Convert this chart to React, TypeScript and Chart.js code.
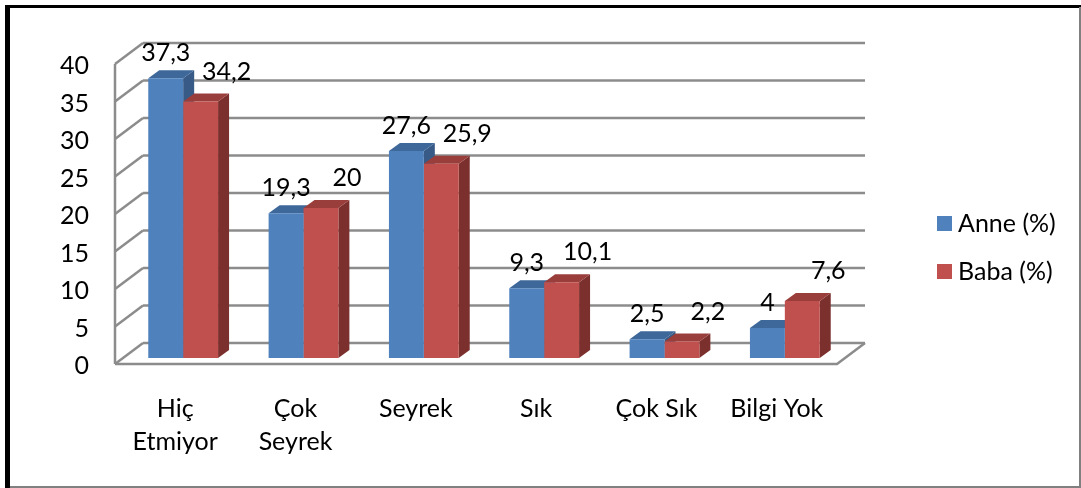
import React, { useEffect, useRef } from "react";
import { Chart, registerables } from "chart.js";

Chart.register(...registerables);

// ---------- data ----------
const categories: (string | string[])[] = [
  ["Hiç", "Etmiyor"],
  ["Çok", "Seyrek"],
  "Seyrek",
  "Sık",
  "Çok Sık",
  "Bilgi Yok",
];
const anneValues = [37.3, 19.3, 27.6, 9.3, 2.5, 4];
const babaValues = [34.2, 20, 25.9, 10.1, 2.2, 7.6];
const seriesLabels = ["Anne (%)", "Baba (%)"];
const yMin = 0;
const yMax = 40;
const yStep = 5;

// ---------- style ----------
const W = 1081;
const H = 488;
const FONT = "Lato";
const FONT_SIZE = 25;
const frontColors = ["#4F81BD", "#C0504D"];
const topColors = ["#3E679A", "#9A3E3C"];
const sideColors = ["#375A86", "#7C302E"];
const GRID = "#8c8c8c";
const FRONT = { dx: -8, dy: 6 };
const BACK = { dx: 20, dy: -15 };
const DEPTH = { dx: 11, dy: -8 };

const fmt = (v: number) => String(v).replace(".", ",");

const threeDPlugin = {
  id: "threeD",
  beforeDraw(chart: any) {
    const { ctx } = chart;
    ctx.save();
    ctx.fillStyle = "#ffffff";
    ctx.fillRect(0, 0, W, H);
    // frame
    ctx.fillStyle = "#000000";
    ctx.fillRect(5, 5, W - 5, 3);
    ctx.fillRect(5, 5, 5, H - 5);
    ctx.fillStyle = "#808080";
    ctx.fillRect(W - 2, 7, 2, H - 7);
    ctx.fillRect(10, H - 2, W - 10, 2);
    ctx.restore();
  },
  beforeDatasetsDraw(chart: any) {
    const { ctx, scales } = chart;
    const xs = scales.x;
    const ys = scales.y;
    ctx.save();
    ctx.strokeStyle = GRID;
    ctx.lineWidth = 2.5;
    ctx.lineCap = "butt";
    const ticks = ys.ticks.map((t: any) => t.value);
    // back wall horizontal grid lines + left wall diagonals
    ticks.forEach((v: number) => {
      const py = ys.getPixelForValue(v);
      ctx.beginPath();
      ctx.moveTo(xs.left + BACK.dx, py + BACK.dy);
      ctx.lineTo(xs.right + BACK.dx, py + BACK.dy);
      ctx.stroke();
      ctx.beginPath();
      ctx.moveTo(xs.left + FRONT.dx, py + FRONT.dy);
      ctx.lineTo(xs.left + BACK.dx, py + BACK.dy);
      ctx.stroke();
    });
    // left wall front edge
    const top = ys.getPixelForValue(yMax);
    const bot = ys.getPixelForValue(yMin);
    ctx.beginPath();
    ctx.moveTo(xs.left + FRONT.dx, top + FRONT.dy);
    ctx.lineTo(xs.left + FRONT.dx, bot + FRONT.dy);
    ctx.stroke();
    // floor front + right edges
    ctx.beginPath();
    ctx.moveTo(xs.left + FRONT.dx, bot + FRONT.dy);
    ctx.lineTo(xs.right + FRONT.dx, bot + FRONT.dy);
    ctx.lineTo(xs.right + BACK.dx, bot + BACK.dy);
    ctx.stroke();

    // bar sides and tops
    chart.data.datasets.forEach((_ds: any, di: number) => {
      const meta = chart.getDatasetMeta(di);
      meta.data.forEach((el: any) => {
        const { x, y, base, width } = el.getProps(["x", "y", "base", "width"], true);
        const l = x - width / 2;
        const r = x + width / 2;
        ctx.fillStyle = sideColors[di];
        ctx.beginPath();
        ctx.moveTo(r, y);
        ctx.lineTo(r + DEPTH.dx, y + DEPTH.dy);
        ctx.lineTo(r + DEPTH.dx, base + DEPTH.dy);
        ctx.lineTo(r, base);
        ctx.closePath();
        ctx.fill();
        ctx.fillStyle = topColors[di];
        ctx.beginPath();
        ctx.moveTo(l, y);
        ctx.lineTo(l + DEPTH.dx, y + DEPTH.dy);
        ctx.lineTo(r + DEPTH.dx, y + DEPTH.dy);
        ctx.lineTo(r, y);
        ctx.closePath();
        ctx.fill();
      });
    });
    ctx.restore();
  },
  afterDatasetsDraw(chart: any) {
    const { ctx } = chart;
    ctx.save();
    ctx.font = `${FONT_SIZE}px ${FONT}`;
    ctx.fillStyle = "#000000";
    ctx.textAlign = "center";
    ctx.textBaseline = "middle";
    chart.data.datasets.forEach((ds: any, di: number) => {
      const meta = chart.getDatasetMeta(di);
      meta.data.forEach((el: any, i: number) => {
        const { x, y } = el.getProps(["x", "y"], true);
        const ox = di === 0 ? 0 : 26;
        const oy = di === 0 ? 25 : 30;
        ctx.fillText(fmt(ds.data[i]), x + ox, y - oy);
      });
    });
    // legend
    ctx.textAlign = "left";
    chart.data.datasets.forEach((ds: any, di: number) => {
      const ly = 216 + di * 48;
      ctx.fillStyle = frontColors[di];
      ctx.fillRect(937, ly, 15, 15);
      ctx.fillStyle = "#000000";
      ctx.fillText(ds.label, 958, ly + 8);
    });
    ctx.restore();
  },
};

export default function App() {
  const ref = useRef<HTMLCanvasElement | null>(null);
  useEffect(() => {
    if (!ref.current) return;
    const font = { family: FONT, size: FONT_SIZE, lineHeight: 1.32 };
    const chart = new Chart(ref.current, {
      type: "bar",
      data: {
        labels: categories,
        datasets: [
          {
            label: seriesLabels[0],
            data: anneValues,
            backgroundColor: frontColors[0],
            categoryPercentage: 0.58,
            barPercentage: 1,
          },
          {
            label: seriesLabels[1],
            data: babaValues,
            backgroundColor: frontColors[1],
            categoryPercentage: 0.58,
            barPercentage: 1,
          },
        ],
      },
      options: {
        responsive: false,
        animation: false,
        devicePixelRatio: 1,
        layout: { padding: { left: 0, right: 236, top: 58, bottom: 0 } },
        plugins: { legend: { display: false }, tooltip: { enabled: false } },
        scales: {
          x: {
            offset: true,
            grid: { display: false, drawTicks: false },
            border: { display: false },
            ticks: {
              font,
              color: "#000000",
              padding: 34,
              labelOffset: -8,
              maxRotation: 0,
              autoSkip: false,
            },
            afterFit: (s: any) => {
              s.height = 130;
            },
          },
          y: {
            min: yMin,
            max: yMax,
            grid: { display: false, drawTicks: false },
            border: { display: false },
            ticks: {
              stepSize: yStep,
              font,
              color: "#000000",
              padding: 34,
              labelOffset: 8,
            },
            afterFit: (s: any) => {
              s.width = 123;
            },
          },
        },
      },
      plugins: [threeDPlugin],
    } as any);
    return () => chart.destroy();
  }, []);
  return (
    <div style={{ position: "fixed", left: 0, top: 0, width: W, height: H }}>
      <canvas ref={ref} width={W} height={H} style={{ display: "block", width: W, height: H }} />
    </div>
  );
}
